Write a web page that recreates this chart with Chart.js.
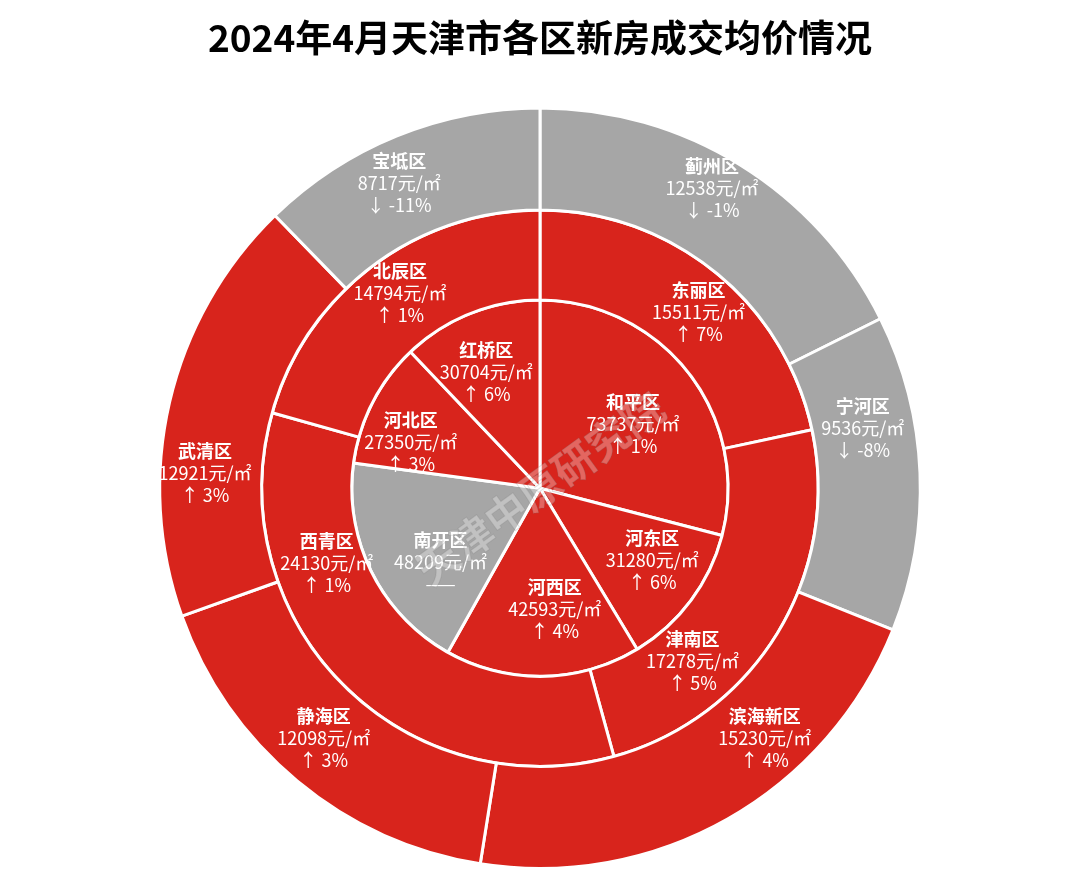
<!DOCTYPE html>
<html>
<head>
<meta charset="utf-8">
<script src="https://cdn.jsdelivr.net/npm/chart.js@4.4.1/dist/chart.umd.min.js"></script>
<style>
  html, body { margin: 0; padding: 0; background: #ffffff; }
  #wrap { width: 1080px; height: 894px; position: relative; }
</style>
</head>
<body>
<div id="wrap"><canvas id="c" width="1080" height="894"></canvas></div>
<script>
// ---- data ----
const titleText = '2024年4月天津市各区新房成交均价情况';

const outerNames   = ['蓟州区', '宁河区', '滨海新区', '静海区', '武清区', '宝坻区'];
const outerValues  = [12538, 9536, 15230, 12098, 12921, 8717];
const outerChanges = ['↓ -1%', '↓ -8%', '↑ 4%', '↑ 3%', '↑ 3%', '↓ -11%'];

const middleNames   = ['东丽区', '津南区', '西青区', '北辰区'];
const middleValues  = [15511, 17278, 24130, 14794];
const middleChanges = ['↑ 7%', '↑ 5%', '↑ 1%', '↑ 1%'];

const innerNames   = ['和平区', '河东区', '河西区', '南开区', '河北区', '红桥区'];
const innerValues  = [73737, 31280, 42593, 48209, 27350, 30704];
const innerChanges = ['↑ 1%', '↑ 6%', '↑ 4%', '——', '↑ 3%', '↑ 6%'];

const unit = '元/㎡';
const watermark = '天津中原研究院';

// ---- styles / label placement (fractions along each arc and across its ring) ----
const RED = '#D8241C';
const GREY = '#A6A6A6';
const colorsFor = changes => changes.map(c => c.startsWith('↑') ? RED : GREY);
const FONT = '"Noto Sans CJK SC", "Noto Sans", sans-serif';

const outerLabelAngle  = [0.47, 0.33, 0.34, 0.52, 0.34, 0.44];
const outerLabelRad    = [0.66, 0.49, 0.57, 0.51, 0.56, 0.57];
const middleLabelAngle = [0.54, 0.70, 0.71, 0.52];
const middleLabelRad   = [0.54, 0.47, 0.42, 0.58];
const innerLabelAngle  = [0.53, 0.41, 0.40, 0.35, 0.31, 0.43];
const innerLabelRad    = [0.60, 0.71, 0.65, 0.66, 0.73, 0.68];

const rings = [
  { names: outerNames,  values: outerValues,  changes: outerChanges,  weight: 102, la: outerLabelAngle,  lr: outerLabelRad },
  { names: middleNames, values: middleValues, changes: middleChanges, weight: 90,  la: middleLabelAngle, lr: middleLabelRad },
  { names: innerNames,  values: innerValues,  changes: innerChanges,  weight: 188, la: innerLabelAngle,  lr: innerLabelRad }
];

const labelPlugin = {
  id: 'ringLabels',
  afterDatasetsDraw(chart) {
    const ctx = chart.ctx;
    ctx.save();
    ctx.textAlign = 'center';
    ctx.textBaseline = 'middle';
    ctx.fillStyle = '#ffffff';
    chart.data.datasets.forEach((ds, di) => {
      const ring = rings[di];
      const meta = chart.getDatasetMeta(di);
      meta.data.forEach((arc, i) => {
        const p = arc.getProps(['x', 'y', 'startAngle', 'endAngle', 'innerRadius', 'outerRadius'], true);
        const a = p.startAngle + ring.la[i] * (p.endAngle - p.startAngle);
        const r = p.innerRadius + ring.lr[i] * (p.outerRadius - p.innerRadius);
        const cx = p.x + Math.cos(a) * r;
        const cy = p.y + Math.sin(a) * r;
        const lh = 22;
        ctx.font = 'bold 18px ' + FONT;
        ctx.fillText(ring.names[i], cx, cy - lh);
        ctx.font = '18px ' + FONT;
        ctx.fillText(ring.values[i] + unit, cx, cy);
        ctx.fillText(ring.changes[i], cx, cy + lh);
      });
    });
    // watermark
    const m0 = chart.getDatasetMeta(0).data[0];
    if (m0) {
      ctx.translate(m0.x, m0.y);
      ctx.rotate(-36 * Math.PI / 180);
      ctx.font = 'bold 42px ' + FONT;
      ctx.fillStyle = 'rgba(255,255,255,0.3)';
      ctx.strokeStyle = 'rgba(120,120,120,0.22)';
      ctx.lineWidth = 1;
      ctx.fillText(watermark, 0, 0);
      ctx.strokeText(watermark, 0, 0);
    }
    ctx.restore();
  }
};

new Chart(document.getElementById('c'), {
  type: 'doughnut',
  data: {
    labels: outerNames,
    datasets: rings.map(r => ({
      data: r.values,
      backgroundColor: colorsFor(r.changes),
      borderColor: '#ffffff',
      borderWidth: 3,
      weight: r.weight,
      hoverOffset: 0
    }))
  },
  options: {
    responsive: false,
    animation: false,
    cutout: 0,
    layout: { padding: { top: 0, bottom: 24, left: 0, right: 0 } },
    plugins: {
      legend: { display: false },
      tooltip: { enabled: false },
      title: {
        display: true,
        text: titleText,
        color: '#000000',
        font: { family: FONT, size: 37, weight: 'bold' },
        padding: { top: 16, bottom: 46 }
      }
    }
  },
  plugins: [labelPlugin]
});
</script>
</body>
</html>
